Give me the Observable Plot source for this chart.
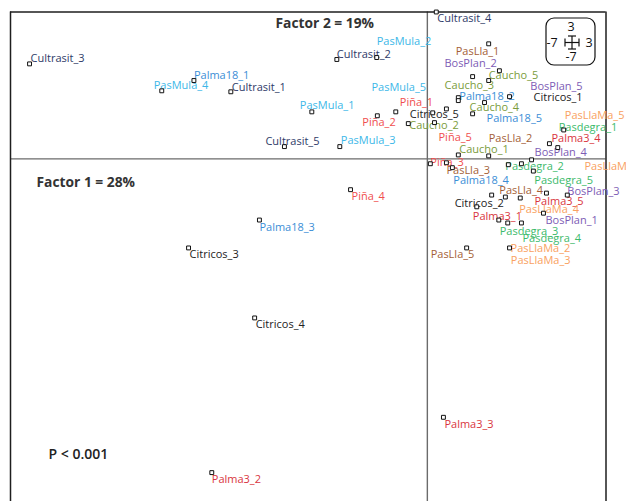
<!DOCTYPE html>
<html><head><meta charset="utf-8">
<script src="https://cdn.jsdelivr.net/npm/d3@7"></script>
<script src="https://cdn.jsdelivr.net/npm/@observablehq/plot@0.6"></script>
<style>body{margin:0;background:#fff;} #chart svg{display:block;}</style>
</head><body><div id="chart"></div>
<script>
// Sample names, group and factor scores (Factor 1 = x, Factor 2 = y)
const samples = [
  "Cultrasit_1","Cultrasit_2","Cultrasit_3","Cultrasit_4","Cultrasit_5",
  "PasMula_1","PasMula_2","PasMula_3","PasMula_4","PasMula_5",
  "Palma18_1","Palma18_2","Palma18_3","Palma18_4","Palma18_5",
  "Piña_1","Piña_2","Piña_3","Piña_4","Piña_5",
  "Citricos_1","Citricos_2","Citricos_3","Citricos_4","Citricos_5",
  "Caucho_1","Caucho_2","Caucho_3","Caucho_4","Caucho_5",
  "PasLla_1","PasLla_2","PasLla_3","PasLla_4","PasLla_5",
  "BosPlan_1","BosPlan_2","BosPlan_3","BosPlan_4","BosPlan_5",
  "Palma3_1","Palma3_2","Palma3_3","Palma3_4","Palma3_5",
  "Pasdegra_1","Pasdegra_2","Pasdegra_3","Pasdegra_4","Pasdegra_5",
  "PasLlaMa_1","PasLlaMa_2","PasLlaMa_3","PasLlaMa_4","PasLlaMa_5"
];
const factor1 = [
  -3.30,-1.52,-6.68, 0.15,-2.40,
  -1.94,-0.85,-1.47,-4.46, 0.32,
  -3.92, 0.52,-2.82, 0.42, 0.96,
  -0.53,-0.84, 0.05,-1.29, 0.12,
   1.38, 1.08,-4.01,-2.90, 0.09,
   0.52,-0.32, 0.76, 0.76, 1.03,
   1.03, 1.03, 0.32, 1.31, 0.66,
   1.95, 1.21, 2.35, 1.75, 0.52,
   0.83,-3.62, 0.27, 2.05, 2.00,
   2.29, 1.36, 1.35, 1.58, 1.78,
   1.58, 1.38, 1.20, 1.56, 2.19
];
const factor2 = [
   1.37, 2.03, 1.94, 3.00, 0.25,
   0.96, 2.07, 0.25, 1.39, 1.02,
   1.60, 1.25,-1.25,-0.18, 1.15,
   0.96, 0.88,-0.10,-0.63, 0.74,
   1.27,-0.74,-1.82,-3.25, 0.94,
   0.08, 0.72, 1.68, 0.92, 1.60,
   2.35, 0.06,-0.08,-0.78,-1.82,
  -1.11, 1.80,-0.74,-0.02, 1.19,
  -0.98,-6.41,-5.28, 0.31,-0.70,
   0.59,-0.12,-1.31,-1.31,-0.25,
  -0.10,-1.82,-1.25,-0.80, 0.23
];
const groupNames  = ["Cultrasit","PasMula","Palma18","Piña","Citricos","Caucho","PasLla","BosPlan","Palma3","Pasdegra","PasLlaMa"];
const groupColors = ["#2e3a68","#3cb7e8","#3b8ed6","#f04e4e","#222222","#7b9c3c","#a45f37","#7d5cb5","#d93540","#3cba6b","#f9a161"];
const titleX = "Factor 1 = 28%";
const titleY = "Factor 2 = 19%";
const pText = "P < 0.001";
const extentLabels = {top: "3", left: "-7", right: "3", bottom: "-7"};

// label placement offsets (pixels) relative to each point
const labelOffsets = {
  "Cultrasit_3":[1,-5],"PasMula_4":[-8,-5],"Palma18_1":[0,-5],"Cultrasit_1":[1,-4],
  "Cultrasit_2":[0,-5],"PasMula_2":[0,-16],"PasMula_1":[-12,-6],"Cultrasit_5":[-19,-5],
  "PasMula_3":[1,-6],"Piña_2":[-15,7],"Piña_1":[4,-9],"Caucho_2":[1,2],"Piña_4":[1,7],
  "Palma18_3":[0,7],"Citricos_3":[1,7],"Citricos_4":[1,7],"Palma3_2":[0,7],"Palma3_3":[1,7],
  "Cultrasit_4":[1,6.5],"PasLla_1":[-33,8],"BosPlan_2":[-55,-7],"Caucho_3":[-28,9],
  "Caucho_5":[0,-5],"Palma18_2":[1,-1],"BosPlan_5":[72,-14],"PasMula_5":[-75,-21],
  "Citricos_5":[-23,2],"Caucho_4":[-3,-6],"Palma18_5":[2,16],"Citricos_1":[24,1],
  "Piña_5":[4,15],"Pasdegra_1":[-5,-3],"PasLlaMa_5":[7,-32],"Palma3_4":[2,-5],
  "Caucho_1":[1,-5],"PasLla_2":[0,-17],"BosPlan_4":[3,-7],"Piña_3":[0,-1],
  "PasLla_3":[0,8],"Palma18_4":[1,13],"Pasdegra_2":[-3,2],"PasLlaMa_1":[63,3],
  "Pasdegra_5":[1,9],"Citricos_2":[-37,8],"PasLla_4":[-6,-7],"PasLlaMa_4":[-1,11],
  "Palma3_5":[-12,8],"BosPlan_3":[0,-4],"Palma3_1":[-4,10],"BosPlan_1":[2,7],
  "PasLlaMa_3":[12,40],"Pasdegra_3":[-8,8],"Pasdegra_4":[1,15],"PasLlaMa_2":[1,1],
  "PasLla_5":[-36,7]
};

const data = samples.map((name, i) => ({name, group: name.split("_")[0], f1: factor1[i], f2: factor2[i]}));
const colorOf = new Map(groupNames.map((g, i) => [g, groupColors[i]]));

const labelMarks = data.map(d => Plot.text([d], {
  x: "f1", y: "f2", text: "name",
  fill: colorOf.get(d.group),
  textAnchor: "start", lineAnchor: "middle",
  dx: labelOffsets[d.name][0], dy: labelOffsets[d.name][1],
  fontSize: 11
}));

const plot = Plot.plot({
  width: 626, height: 501,
  marginLeft: 10, marginRight: 20.5, marginTop: 11.5, marginBottom: 0,
  style: {fontFamily: "'Open Sans', sans-serif", background: "white"},
  x: {domain: [-7, 3], axis: null},
  y: {domain: [-7, 3], axis: null},
  marks: [
    Plot.ruleX([0], {stroke: "#6b6b6b", strokeWidth: 1.4}),
    Plot.ruleY([0], {stroke: "#6b6b6b", strokeWidth: 1.4}),
    Plot.ruleX([-7, 3], {stroke: "#1e1e1e", strokeWidth: 1.5}),
    Plot.ruleY([3], {stroke: "#1e1e1e", strokeWidth: 1.5}),
    ...labelMarks,
    Plot.dot(data, {x: "f1", y: "f2", symbol: "square", r: 2.2, stroke: "#111", fill: "white", strokeWidth: 1}),
    Plot.text([titleY], {frameAnchor: "top-left", dx: 265, dy: 12, text: d => d, textAnchor: "start", lineAnchor: "middle", fontWeight: "bold", fontSize: 13.8, fill: "#333"}),
    Plot.text([titleX], {frameAnchor: "top-left", dx: 26, dy: 170.5, text: d => d, textAnchor: "start", lineAnchor: "middle", fontWeight: "bold", fontSize: 13.8, fill: "#333"}),
    Plot.text([pText], {frameAnchor: "top-left", dx: 38, dy: 442.5, text: d => d, textAnchor: "start", lineAnchor: "middle", fontWeight: 600, fontSize: 14, fill: "#222"})
  ]
});
document.getElementById("chart").append(plot);

// extent key (top-right box)
const svg = d3.select(plot);
const g = svg.append("g").attr("font-family", "'Open Sans', sans-serif").attr("font-size", 12.5).attr("fill", "#111");
g.append("rect").attr("x", 546).attr("y", 18).attr("width", 49).attr("height", 47).attr("rx", 8)
  .attr("fill", "none").attr("stroke", "#111").attr("stroke-width", 1.2);
const tx = [[571, 27, extentLabels.top], [552, 42.5, extentLabels.left], [589, 42.5, extentLabels.right], [571, 57, extentLabels.bottom]];
tx.forEach(([x, y, t]) => g.append("text").attr("x", x).attr("y", y).attr("dy", "0.35em").attr("text-anchor", "middle").text(t));
const cross = [[565,42.5,579,42.5],[565,38.5,565,46.5],[579,38.5,579,46.5],[572,36,572,49],[568,36,576,36],[568,49,576,49]];
cross.forEach(([x1,y1,x2,y2]) => g.append("line").attr("x1",x1).attr("y1",y1).attr("x2",x2).attr("y2",y2).attr("stroke","#111").attr("stroke-width",1.2));
</script>
</body></html>
